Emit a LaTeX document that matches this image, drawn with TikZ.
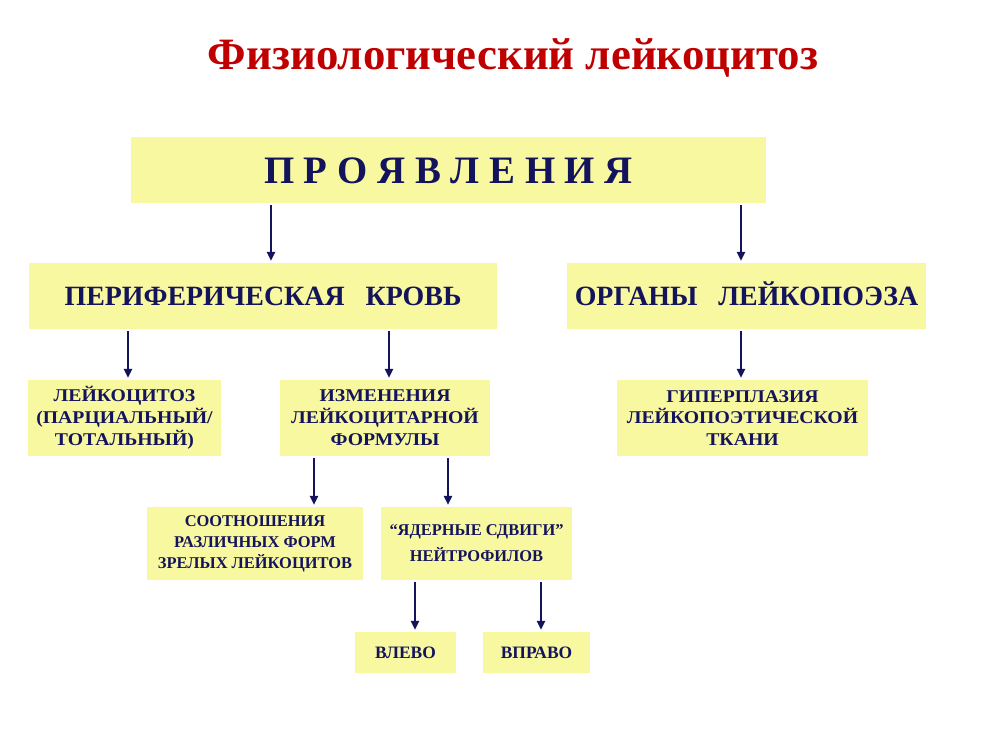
\documentclass[tikz,border=0pt]{standalone}
\usepackage{fontspec}
\setmainfont{Liberation Serif}
\newfontfamily\widefont[FakeStretch=1.1]{Liberation Serif}
\usetikzlibrary{arrows.meta}
\definecolor{boxfill}{RGB}{248,248,160}
\definecolor{inkblue}{RGB}{20,20,92}
\definecolor{titlered}{RGB}{192,0,0}
\tikzset{
    block/.style={fill=boxfill, text=inkblue, align=center, inner sep=0pt},
    oneline/.style={text height=#1, text depth=0pt},
    down/.style={draw=inkblue, line width=2.2bp, -{Triangle[length=9bp,width=8bp]},
        shorten <=2bp, shorten >=2bp},
}

\begin{document}
\begin{tikzpicture}[x=1bp,y=-1bp]
\useasboundingbox (0,0) rectangle (1008,756);
\fill[white] (0,0) rectangle (1008,756);

\node[anchor=base, text=titlered, font=\bfseries\fontsize{45}{50}\selectfont] (title) at (513,70) {Физиологический лейкоцитоз};

% top level
\node[block, oneline=26bp, minimum width=637, minimum height=66, font=\bfseries\fontsize{39}{44}\selectfont] (proy) at (448.5,170) {П Р О Я В Л Е Н И Я};

% second level
\node[block, oneline=18.5bp, minimum width=470, minimum height=66, font=\bfseries\fontsize{28}{30}\selectfont] (blood) at (263,296) {ПЕРИФЕРИЧЕСКАЯ~~~КРОВЬ};
\node[block, oneline=18.5bp, minimum width=361, minimum height=66, font=\bfseries\fontsize{28}{30}\selectfont] (organs) at (746.5,296) {ОРГАНЫ~~~ЛЕЙКОПОЭЗА};

% third level
\node[block, minimum width=193, minimum height=76, font=\widefont\bfseries\fontsize{18}{22}\selectfont] (leuko) at (124.5,418) {ЛЕЙКОЦИТОЗ\\(ПАРЦИАЛЬНЫЙ/\\ТОТАЛЬНЫЙ)};
\node[block, minimum width=210, minimum height=76, font=\widefont\bfseries\fontsize{18}{22}\selectfont] (formula) at (385,418) {ИЗМЕНЕНИЯ\\ЛЕЙКОЦИТАРНОЙ\\ФОРМУЛЫ};
\node[block, minimum width=251, minimum height=76, font=\widefont\bfseries\fontsize{18}{22}\selectfont] (hyper) at (742.5,418) {ГИПЕРПЛАЗИЯ\\ЛЕЙКОПОЭТИЧЕСКОЙ\\ТКАНИ};

% fourth level
\node[block, minimum width=216, minimum height=73, font=\bfseries\fontsize{16.5}{21}\selectfont] (ratio) at (255,543.5) {СООТНОШЕНИЯ\\РАЗЛИЧНЫХ ФОРМ\\ЗРЕЛЫХ ЛЕЙКОЦИТОВ};
\node[block, minimum width=191, minimum height=73, font=\bfseries\fontsize{16.5}{21}\selectfont] (shift) at (476.5,543.5) {“ЯДЕРНЫЕ СДВИГИ”\\[5bp]НЕЙТРОФИЛОВ};

% fifth level
\node[block, oneline=11.5bp, minimum width=101, minimum height=41, font=\bfseries\fontsize{17.5}{20}\selectfont] (left) at (405.5,652.5) {ВЛЕВО};
\node[block, oneline=11.5bp, minimum width=107, minimum height=41, font=\bfseries\fontsize{17.5}{20}\selectfont] (right) at (536.5,652.5) {ВПРАВО};

% arrows
\draw[down] (proy.south -| 271,0) -- (blood.north -| 271,0);
\draw[down] (proy.south -| 741,0) -- (organs.north -| 741,0);
\draw[down] (blood.south -| 128,0) -- (leuko.north -| 128,0);
\draw[down] (blood.south -| 389,0) -- (formula.north -| 389,0);
\draw[down] (organs.south -| 741,0) -- (hyper.north -| 741,0);
\draw[down] (formula.south -| 314,0) -- (ratio.north -| 314,0);
\draw[down] (formula.south -| 448,0) -- (shift.north -| 448,0);
\draw[down] (shift.south -| 415,0) -- (left.north -| 415,0);
\draw[down] (shift.south -| 541,0) -- (right.north -| 541,0);
\end{tikzpicture}
\end{document}
